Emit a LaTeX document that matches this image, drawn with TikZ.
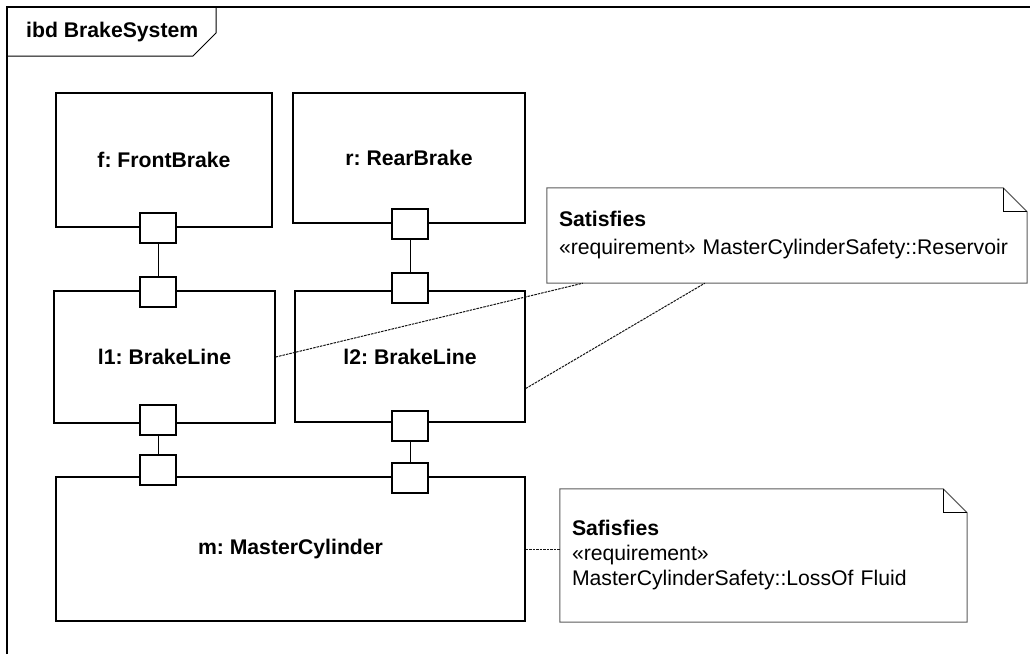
\documentclass[tikz,border=0pt]{standalone}
\usepackage{fontspec}
\setmainfont{Liberation Sans}
\usepackage{tikz}
\usepackage{xcolor}
\definecolor{notegrey}{RGB}{90, 90, 90}
\definecolor{linkgrey}{RGB}{20, 20, 20}

\begin{document}
\begin{tikzpicture}[x=1pt, y=-1pt,
    part/.style={draw, line width=1.4pt, font=\bfseries},
    port/.style={draw, line width=1.5pt, fill=white, minimum width=36pt, minimum height=30pt, inner sep=0pt},
    wire/.style={line width=1pt},
    tracelink/.style={line width=1pt, linkgrey, dash pattern=on 2.5pt off 1pt},
    notebox/.style={inner xsep=12pt, inner ysep=0pt, align=left}]
    \frenchspacing
    \fontsize{21.2}{25}\selectfont
    \useasboundingbox (0, 0) rectangle (1030, 654);

    % diagram frame and its name tab
    \draw[line width=1.3pt] (7, 654) -- (7, 7) -- (1030, 7);
    \draw[line width=1pt] (7, 56) -- (193, 56) -- (216, 33) -- (216, 7);
    \node[anchor=west, font=\bfseries, inner sep=0pt] (title) at (26, 32) {ibd BrakeSystem};

    % parts
    \node[part, minimum width=216pt, minimum height=134pt] (f) at (164, 160) {f: FrontBrake};
    \node[part, minimum width=232pt, minimum height=130pt] (r) at (409, 158) {r: RearBrake};
    \node[part, minimum width=221pt, minimum height=132pt] (l1) at (164.5, 357) {l1: BrakeLine};
    \node[part, minimum width=230pt, minimum height=131pt] (l2) at (410, 356.5) {l2: BrakeLine};
    \node[part, minimum width=469pt, minimum height=144pt] (m) at (290.5, 549) {m: MasterCylinder};

    % ports on the part borders
    \node[port] (fp) at (158, 228) {};
    \node[port] (l1a) at (158, 292) {};
    \node[port] (l1b) at (158, 420) {};
    \node[port] (ma) at (158, 470) {};
    \node[port] (rp) at (410, 224) {};
    \node[port] (l2a) at (410, 288) {};
    \node[port] (l2b) at (410, 426) {};
    \node[port] (mb) at (410, 478) {};

    % connectors between ports
    \draw[wire] (fp) -- (l1a);
    \draw[wire] (l1b) -- (ma);
    \draw[wire] (rp) -- (l2a);
    \draw[wire] (l2b) -- (mb);

    % notes with folded corner
    \node[notebox, text width=456pt, minimum width=480pt, minimum height=95pt] (n1) at (787, 235.5)
        {\textbf{Satisfies}\\[3pt]«requirement» MasterCylinderSafety::Reservoir};
    \node[notebox, text width=383pt, minimum width=407pt, minimum height=133pt] (n2) at (763.5, 555.5)
        {\textbf{Safisfies}\\«requirement»\\MasterCylinderSafety::LossOf Fluid};
    \foreach \n in {n1, n2} {
        \draw[notegrey, line width=1pt] (\n.south west) -- (\n.north west) -- ([xshift=-24pt]\n.north east)
            -- ([yshift=-24pt]\n.north east) -- (\n.south east) -- cycle;
        \draw[line width=1pt] ([xshift=-24pt]\n.north east) -- ([xshift=-24pt, yshift=-24pt]\n.north east)
            -- ([yshift=-24pt]\n.north east);
    }

    % satisfy links
    \coordinate (n1s1) at ([xshift=36pt]n1.south west);
    \coordinate (n1s2) at ([xshift=158pt]n1.south west);
    \coordinate (l2e) at ([yshift=-32pt]l2.east);
    \draw[tracelink] (l1.east) -- (n1s1);
    \draw[tracelink] (l2e) -- (n1s2);
    \draw[tracelink] (m.east) -- (m.east -| n2.west);
\end{tikzpicture}
\end{document}
